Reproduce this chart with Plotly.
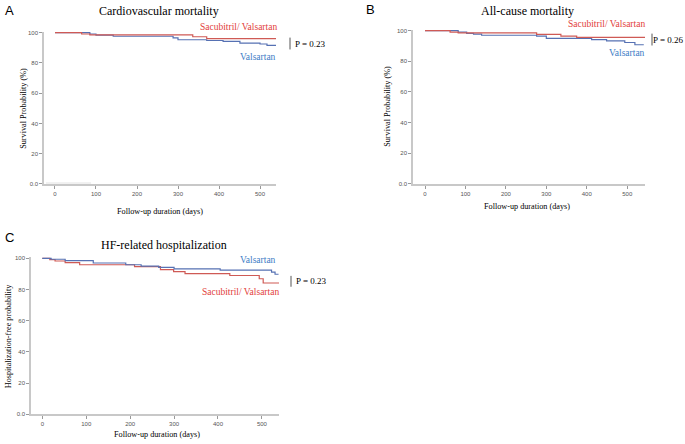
import plotly.graph_objects as go

W, H = 685, 444

# ---- data ----
a_sv_days = [0, 65, 85, 336, 370, 540]
a_sv_surv = [100, 99.1, 98.5, 97.3, 96.1, 96.1]
a_v_days = [0, 85, 100, 142, 288, 300, 370, 410, 451, 500, 517, 539]
a_v_surv = [100, 99.1, 98.3, 97.6, 96.5, 95.3, 94.8, 94.2, 93.1, 92.5, 91.6, 91.6]
a_stray_days = [-22, 88]
a_stray_val = [0.6, 0.6]

b_sv_days = [0, 62, 82, 276, 336, 375, 544]
b_sv_surv = [100, 99.1, 98.5, 97.6, 96.4, 95.6, 95.6]
b_v_days = [0, 82, 103, 120, 140, 276, 300, 412, 449, 494, 519, 541]
b_v_surv = [100, 99.1, 98.3, 97.8, 97.0, 96.5, 95.0, 94.2, 93.3, 92.3, 90.8, 90.8]

c_v_days = [0, 20, 52, 116, 190, 225, 265, 300, 405, 522, 530, 538]
c_v_surv = [100, 99.4, 98.5, 97.0, 95.9, 95.0, 94.2, 93.2, 92.4, 91.2, 89.8, 89.8]
c_sv_days = [0, 17, 29, 52, 85, 210, 269, 299, 325, 427, 494, 503, 542]
c_sv_surv = [100, 99.2, 98.3, 97.2, 95.9, 94.7, 92.8, 91.5, 90.2, 89.0, 86.9, 84.2, 84.2]

y_tickvals = [0, 20, 40, 60, 80, 100]
y_ticktext = ["0.0", "20", "40", "60", "80", "100"]
x_tickvals = [0, 100, 200, 300, 400, 500]

titles = ["Cardiovascular mortality", "All-cause mortality", "HF-related hospitalization"]
p_values = ["P = 0.23", "P = 0.26", "P = 0.23"]

RED = "#cf5a55"
BLUE = "#5671b3"
RED_T = "#e2403a"
BLUE_T = "#3c7cc6"
SERIF = "Liberation Serif"
SANS = "Liberation Sans"

def px(x):
    return x / W

def py(y):
    return 1 - y / H

fig = go.Figure()

def add_step(x, y, color, xa, ya, width=1.2):
    fig.add_trace(go.Scatter(x=x, y=y, mode="lines", line=dict(color=color, width=width, shape="hv"),
                             xaxis=xa, yaxis=ya, showlegend=False, hoverinfo="skip"))

# panel A
add_step(a_stray_days, a_stray_val, "#e2e2e2", "x", "y", 1)
add_step(a_v_days, a_v_surv, BLUE, "x", "y")
add_step(a_sv_days, a_sv_surv, RED, "x", "y")
# panel B
add_step(b_v_days, b_v_surv, BLUE, "x2", "y2")
add_step(b_sv_days, b_sv_surv, RED, "x2", "y2")
# panel C
add_step(c_sv_days, c_sv_surv, RED, "x3", "y3")
add_step(c_v_days, c_v_surv, BLUE, "x3", "y3")

def xax(dom, rng, anchor):
    return dict(domain=dom, range=rng, anchor=anchor, showline=True, linecolor="#c8c8c8", linewidth=1.5,
                ticks="outside", ticklen=3, tickcolor="#999", tickwidth=1, tickvals=x_tickvals,
                tickfont=dict(family=SANS, size=6, color="#555"), showgrid=False, zeroline=False)

def yax(dom, rng, anchor):
    return dict(domain=dom, range=rng, anchor=anchor, showline=True, linecolor="#c8c8c8", linewidth=1.5,
                ticks="outside", ticklen=3, tickcolor="#999", tickwidth=1, tickvals=y_tickvals,
                ticktext=y_ticktext, tickfont=dict(family=SANS, size=6, color="#555"),
                showgrid=False, zeroline=False)

fig.update_layout(
    width=W, height=H, margin=dict(l=0, r=0, t=0, b=0),
    paper_bgcolor="white", plot_bgcolor="white", showlegend=False,
    xaxis=xax([px(44), px(276)], [-26.8, 539], "y"),
    yaxis=yax([py(184), py(30)], [0, 100.65], "x"),
    xaxis2=xax([px(413), px(645)], [-29.7, 544], "y2"),
    yaxis2=yax([py(184), py(28)], [0, 100.65], "x2"),
    xaxis3=xax([px(31), px(279)], [-25.8, 539], "y3"),
    yaxis3=yax([py(417), py(258)], [0, 100.8], "x3"),
)

ann = []
def text(x, y, s, size, color="black", family=SERIF, xanchor="center", angle=0):
    ann.append(dict(x=px(x), y=py(y), xref="paper", yref="paper", text=s, showarrow=False,
                    font=dict(family=family, size=size, color=color), xanchor=xanchor,
                    yanchor="middle", textangle=angle))

# panel letters
text(3, 9, "A", 13, family=SANS, xanchor="left")
text(364, 8, "B", 13, family=SANS, xanchor="left")
text(3, 238, "C", 13, family=SANS, xanchor="left")
# titles
text(159, 9, titles[0], 12)
text(527, 9, titles[1], 12)
text(164, 246, titles[2], 12)
# axis titles
text(160, 212, "Follow-up duration (days)", 8.2)
text(527, 207, "Follow-up duration (days)", 8.2)
text(157, 437, "Follow-up duration (days)", 8.2)
text(24, 108, "Survival Probability (%)", 8.2, angle=-90)
text(388, 106, "Survival Probability (%)", 8.2, angle=-90)
text(8, 338, "Hospitalization-free probability", 8.2, angle=-90)
# series labels
text(279, 25, "Sacubitril/ Valsartan", 9.5, RED_T, xanchor="right")
text(278, 56, "Valsartan", 9.5, BLUE_T, xanchor="right")
text(647, 22, "Sacubitril/ Valsartan", 9.5, RED_T, xanchor="right")
text(647, 52, "Valsartan", 9.5, BLUE_T, xanchor="right")
text(278, 261, "Valsartan", 9.5, BLUE_T, xanchor="right")
text(281, 293, "Sacubitril/ Valsartan", 9.5, RED_T, xanchor="right")
# p-values
text(293, 42, p_values[0], 9, xanchor="left")
text(685, 38, p_values[1], 9, xanchor="right")
text(294, 282, p_values[2], 9, xanchor="left")
fig.update_layout(annotations=ann)

shapes = []
for (x, y0, y1) in [(290, 36, 48), (652, 32, 44), (291, 277, 288)]:
    shapes.append(dict(type="line", xref="paper", yref="paper", x0=px(x), x1=px(x), y0=py(y0), y1=py(y1),
                       line=dict(color="#555", width=1)))
fig.update_layout(shapes=shapes)

fig.write_html("out.html", config={"displayModeBar": False},
               post_script="document.body.style.margin='0';document.body.style.overflow='hidden';")
